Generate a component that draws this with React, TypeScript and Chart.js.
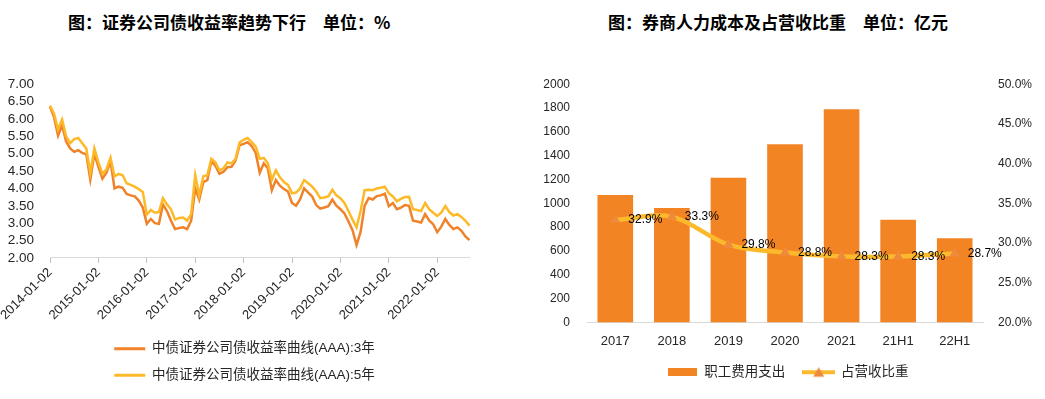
import React, { useEffect, useRef } from 'react';
import { Chart, registerables } from 'chart.js';

Chart.register(...registerables);

// ---------- Left chart data (monthly samples, 2014-01 .. 2022-09) ----------
const yearTicks = [
  '2014-01-02', '2015-01-02', '2016-01-02', '2017-01-02', '2018-01-02',
  '2019-01-02', '2020-01-02', '2021-01-02', '2022-01-02',
];

const yield3Y = [
  6.35, 6.05, 5.52, 5.82, 5.35, 5.15, 5.05, 5.10, 5.02, 4.98, 4.25, 5.00,
  4.62, 4.28, 4.45, 4.78, 4.00, 4.05, 4.02, 3.84, 3.80, 3.77, 3.65, 3.45,
  2.98, 3.12, 3.00, 2.98, 3.54, 3.35, 3.07, 2.83, 2.86, 2.88, 2.83, 3.07,
  4.00, 3.68, 4.18, 4.24, 4.78, 4.65, 4.42, 4.48, 4.61, 4.62, 4.80, 5.24,
  5.28, 5.33, 5.22, 5.02, 4.45, 4.72, 4.58, 3.95, 4.24, 4.08, 3.98, 3.91,
  3.58, 3.50, 3.68, 4.00, 3.88, 3.77, 3.52, 3.42, 3.45, 3.49, 3.68, 3.50,
  3.40, 3.28, 3.05, 2.80, 2.37, 2.75, 3.50, 3.72, 3.68, 3.78, 3.80, 3.85,
  3.49, 3.58, 3.40, 3.45, 3.52, 3.50, 3.07, 3.05, 3.02, 3.26, 3.08, 2.97,
  2.74, 2.90, 3.12, 2.95, 2.83, 2.88, 2.78, 2.62, 2.51,
];

const yield5Y = [
  6.38, 6.15, 5.70, 5.98, 5.50, 5.30, 5.42, 5.45, 5.30, 5.15, 4.45, 5.15,
  4.75, 4.42, 4.55, 4.88, 4.35, 4.42, 4.38, 4.15, 4.10, 4.05, 3.98, 3.90,
  3.25, 3.38, 3.30, 3.32, 3.72, 3.54, 3.40, 3.10, 3.15, 3.16, 3.07, 3.26,
  4.38, 3.80, 4.35, 4.38, 4.85, 4.75, 4.52, 4.58, 4.75, 4.72, 4.85, 5.32,
  5.40, 5.45, 5.33, 5.20, 4.85, 4.88, 4.72, 4.25, 4.52, 4.32, 4.18, 4.10,
  3.86, 3.88, 4.00, 4.24, 4.15, 4.05, 3.91, 3.72, 3.74, 3.77, 3.96, 3.80,
  3.72, 3.58, 3.35, 3.10, 2.88, 3.35, 3.95, 3.96, 3.95, 4.00, 4.02, 4.05,
  3.86, 3.77, 3.63, 3.70, 3.75, 3.76, 3.40, 3.38, 3.35, 3.58, 3.40, 3.30,
  3.21, 3.30, 3.49, 3.32, 3.22, 3.26, 3.18, 3.07, 2.93,
];

const leftSeriesNames = ['中债证券公司债收益率曲线(AAA):3年', '中债证券公司债收益率曲线(AAA):5年'];

// ---------- Right chart data ----------
const categories = ['2017', '2018', '2019', '2020', '2021', '21H1', '22H1'];
const staffCost = [1070, 960, 1215, 1495, 1790, 863, 707];
const costRatio = [32.9, 33.3, 29.8, 28.8, 28.3, 28.3, 28.7];
const rightSeriesNames = ['职工费用支出', '占营收比重'];

const TEXT = '#262626';
const FONT = '"Liberation Sans", "Noto Sans CJK SC", sans-serif';
const C3 = '#F0832A';
const C5 = '#FDB927';
const BAR = '#F38424';
const LINE = '#FBBA2C';
const MARK = '#EF8A3C';

const monthLabels = yield3Y.map((_, i) => {
  const year = Number(yearTicks[0].slice(0, 4)) + Math.floor(i / 12);
  const m = (i % 12) + 1;
  return m === 1 ? yearTicks[Math.floor(i / 12)] : `${year}-${String(m).padStart(2, '0')}-01`;
});

const ratioLabelPlugin = {
  id: 'ratioLabels',
  afterDatasetsDraw(chart: any) {
    const meta = chart.getDatasetMeta(1);
    const ctx = chart.ctx;
    ctx.save();
    ctx.font = `12px ${FONT}`;
    ctx.fillStyle = '#000';
    ctx.textAlign = 'left';
    ctx.textBaseline = 'middle';
    meta.data.forEach((pt: any, i: number) => {
      ctx.fillText(`${costRatio[i].toFixed(1)}%`, pt.x + 13, pt.y);
    });
    ctx.restore();
  },
};

function makeBarSwatch() {
  const c = document.createElement('canvas');
  c.width = 29;
  c.height = 8;
  const g = c.getContext('2d')!;
  g.fillStyle = BAR;
  g.fillRect(0, 0, 29, 8);
  return c;
}

function makeLineSwatch() {
  const c = document.createElement('canvas');
  c.width = 33;
  c.height = 12;
  const g = c.getContext('2d')!;
  g.strokeStyle = LINE;
  g.lineWidth = 4;
  g.beginPath();
  g.moveTo(0, 6);
  g.lineTo(33, 6);
  g.stroke();
  g.fillStyle = MARK;
  g.beginPath();
  g.moveTo(16.5, 1);
  g.lineTo(22, 10.5);
  g.lineTo(11, 10.5);
  g.closePath();
  g.fill();
  return c;
}

const titleStyle = (left: number): React.CSSProperties => ({
  position: 'absolute',
  left,
  top: 13,
  fontFamily: '"Noto Sans CJK SC", sans-serif',
  fontWeight: 700,
  fontSize: 17,
  lineHeight: '17px',
  whiteSpace: 'nowrap',
  color: '#000',
});

export default function App() {
  const leftRef = useRef<HTMLCanvasElement>(null);
  const rightRef = useRef<HTMLCanvasElement>(null);

  useEffect(() => {
    const left = new Chart(leftRef.current!, {
      type: 'line',
      data: {
        labels: monthLabels,
        datasets: [
          { label: leftSeriesNames[0], data: yield3Y, borderColor: C3, backgroundColor: C3, borderWidth: 2.5, pointRadius: 0, tension: 0, order: 1 },
          { label: leftSeriesNames[1], data: yield5Y, borderColor: C5, backgroundColor: C5, borderWidth: 2.5, pointRadius: 0, tension: 0, order: 0 },
        ],
      },
      options: {
        responsive: false,
        animation: false,
        layout: { padding: { top: 13, left: 8, right: 0, bottom: 7 } },
        plugins: {
          tooltip: { enabled: false },
          title: { display: false },
          legend: {
            position: 'bottom',
            labels: {
              boxWidth: 31,
              boxHeight: 3,
              padding: 13,
              color: TEXT,
              font: { size: 13.5, family: FONT },
              sort: (a: any, b: any) => a.datasetIndex - b.datasetIndex,
              generateLabels: (chart: any) =>
                chart.data.datasets.map((ds: any, i: number) => ({
                  text: ds.label, fillStyle: ds.borderColor, strokeStyle: ds.borderColor,
                  lineWidth: 0, hidden: false, datasetIndex: i, fontColor: TEXT,
                })),
            },
          },
        },
        scales: {
          x: {
            type: 'category',
            offset: false,
            afterFit: (s: any) => {
              s.paddingLeft = 0;
              s.paddingRight = 11.5;
              s.height += 4;
            },
            grid: {
              display: true, drawOnChartArea: false, drawTicks: true, tickLength: 5,
              tickColor: (c: any) => (c.index % 12 === 0 ? '#BFBFBF' : 'rgba(0,0,0,0)'),
            },
            border: { display: true, color: '#D9D9D9', width: 1 },
            ticks: {
              autoSkip: false, minRotation: 45, maxRotation: 45, padding: 2, color: TEXT,
              font: { size: 13, family: FONT },
              callback: (_v: any, i: number) => (i % 12 === 0 ? monthLabels[i] : ''),
            },
          },
          y: {
            min: 2,
            max: 7,
            afterFit: (s: any) => { s.width = 42; },
            grid: { display: false, drawTicks: false },
            border: { display: false },
            ticks: {
              stepSize: 0.5, autoSkip: false, padding: 16, color: TEXT,
              font: { size: 13.5, family: FONT },
              callback: (v: any) => Number(v).toFixed(2),
            },
          },
        },
      },
    } as any);

    const barSwatch = makeBarSwatch();
    const lineSwatch = makeLineSwatch();

    const right = new Chart(rightRef.current!, {
      type: 'bar',
      data: {
        labels: categories,
        datasets: [
          {
            type: 'bar', label: rightSeriesNames[0], data: staffCost, backgroundColor: BAR, borderWidth: 0,
            categoryPercentage: 1, barPercentage: 0.63, yAxisID: 'y', order: 1,
          },
          {
            type: 'line', label: rightSeriesNames[1], data: costRatio, borderColor: LINE, backgroundColor: MARK,
            borderWidth: 4.5, tension: 0.35, pointStyle: 'triangle', pointRadius: 6,
            pointBackgroundColor: MARK, pointBorderColor: MARK, pointBorderWidth: 0, yAxisID: 'y1', order: 0,
          },
        ],
      },
      options: {
        responsive: false,
        animation: false,
        layout: { padding: { top: 10, left: 23, right: 13, bottom: 10 } },
        plugins: {
          tooltip: { enabled: false },
          legend: {
            position: 'bottom',
            labels: {
              usePointStyle: true, pointStyleWidth: 31, padding: 18, color: TEXT,
              font: { size: 13.5, family: FONT },
              sort: (a: any, b: any) => a.datasetIndex - b.datasetIndex,
              generateLabels: (chart: any) =>
                chart.data.datasets.map((ds: any, i: number) => ({
                  text: ds.label, fillStyle: i === 0 ? BAR : LINE, strokeStyle: i === 0 ? BAR : LINE,
                  lineWidth: 0, hidden: false, datasetIndex: i,
                  pointStyle: i === 0 ? barSwatch : lineSwatch, fontColor: TEXT,
                })),
            },
          },
        },
        scales: {
          x: {
            afterFit: (s: any) => { s.paddingLeft = 0; s.paddingRight = 0; s.height = 25; },
            grid: { display: false, drawTicks: false },
            border: { display: true, color: '#D9D9D9', width: 1 },
            ticks: { padding: 11, color: TEXT, font: { size: 13, family: FONT } },
          },
          y: {
            position: 'left', min: 0, max: 2000,
            afterFit: (s: any) => { s.width = 44; },
            grid: { display: false, drawTicks: false },
            border: { display: false },
            ticks: {
              stepSize: 200, autoSkip: false, padding: 17, color: TEXT,
              font: { size: 12, family: FONT }, callback: (v: any) => String(v),
            },
          },
          y1: {
            position: 'right', min: 20, max: 50,
            afterFit: (s: any) => { s.width = 49; },
            grid: { display: false, drawTicks: false },
            border: { display: false },
            ticks: {
              stepSize: 5, autoSkip: false, padding: 15, color: TEXT,
              font: { size: 12, family: FONT },
              callback: (v: any) => `${Number(v).toFixed(1)}%`,
            },
          },
        },
      },
      plugins: [ratioLabelPlugin],
    } as any);

    return () => {
      left.destroy();
      right.destroy();
    };
  }, []);

  return (
    <div style={{ position: 'fixed', left: 0, top: 0, width: 1045, height: 399, background: '#fff', overflow: 'hidden' }}>
      <div style={titleStyle(68)}>图：证券公司债收益率趋势下行　单位：%</div>
      <div style={titleStyle(608)}>图：券商人力成本及占营收比重　单位：亿元</div>
      <canvas ref={leftRef} width={481} height={339} style={{ position: 'absolute', left: 0, top: 60 }} />
      <canvas ref={rightRef} width={525} height={339} style={{ position: 'absolute', left: 520, top: 60 }} />
    </div>
  );
}
